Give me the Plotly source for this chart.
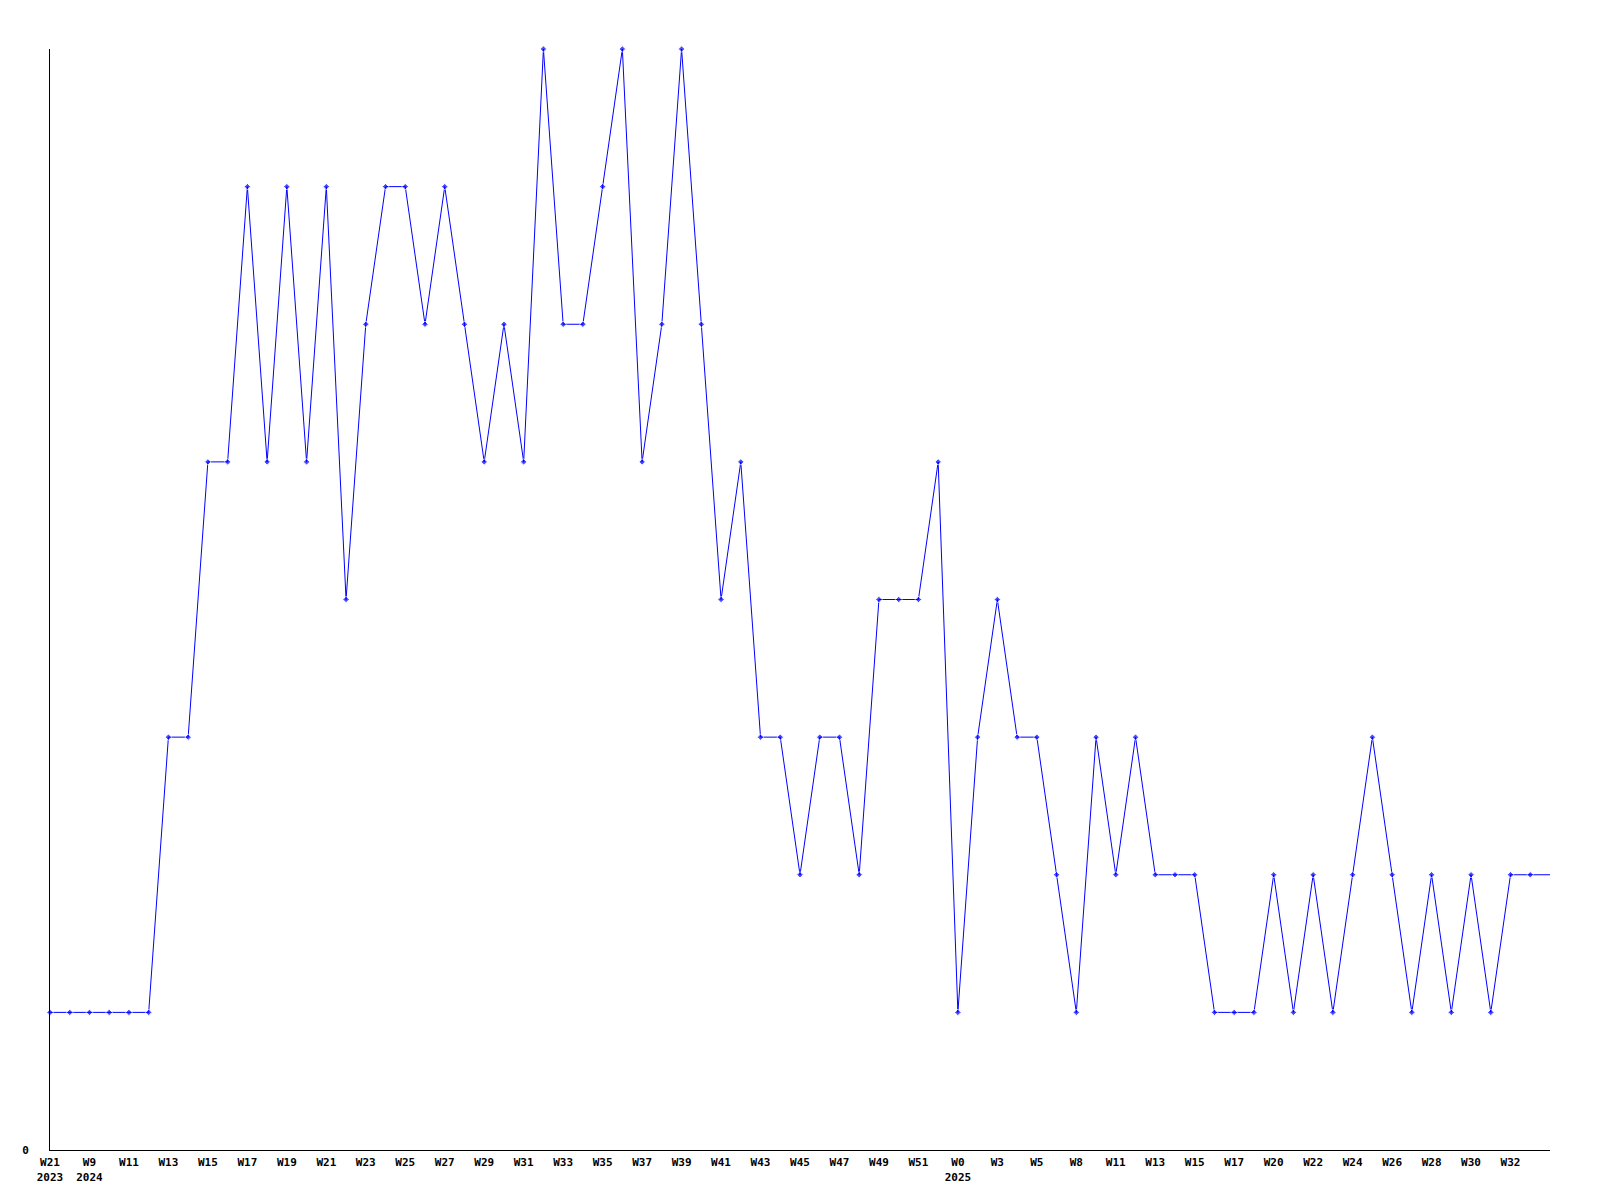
import plotly.graph_objects as go

weeks = [
    "W21 2023", "W8 2024", "W9 2024", "W10 2024", "W11 2024", "W12 2024", "W13 2024", "W14 2024",
    "W15 2024", "W16 2024", "W17 2024", "W18 2024", "W19 2024", "W20 2024", "W21 2024", "W22 2024",
    "W23 2024", "W24 2024", "W25 2024", "W26 2024", "W27 2024", "W28 2024", "W29 2024", "W30 2024",
    "W31 2024", "W32 2024", "W33 2024", "W34 2024", "W35 2024", "W36 2024", "W37 2024", "W38 2024",
    "W39 2024", "W40 2024", "W41 2024", "W42 2024", "W43 2024", "W44 2024", "W45 2024", "W46 2024",
    "W47 2024", "W48 2024", "W49 2024", "W50 2024", "W51 2024", "W52 2024", "W0 2025", "W1 2025",
    "W3 2025", "W4 2025", "W5 2025", "W7 2025", "W8 2025", "W10 2025", "W11 2025", "W12 2025",
    "W13 2025", "W14 2025", "W15 2025", "W16 2025", "W17 2025", "W19 2025", "W20 2025", "W21 2025",
    "W22 2025", "W23 2025", "W24 2025", "W25 2025", "W26 2025", "W27 2025", "W28 2025", "W29 2025",
    "W30 2025", "W31 2025", "W32 2025", "W33 2025", "W34 2025",
]

values = [
    1, 1, 1, 1, 1, 1, 3, 3, 5, 5, 7, 5, 7, 5, 7, 4,
    6, 7, 7, 6, 7, 6, 5, 6, 5, 8, 6, 6, 7, 8, 5, 6,
    8, 6, 4, 5, 3, 3, 2, 3, 3, 2, 4, 4, 4, 5, 1, 3,
    4, 3, 3, 2, 1, 3, 2, 3, 2, 2, 2, 1, 1, 1, 2, 1,
    2, 1, 2, 3, 2, 1, 2, 1, 2, 1, 2, 2, 2,
]

tick_labels = {
    "W21 2023": "W21<br>2023", "W9 2024": "W9<br>2024", "W0 2025": "W0<br>2025",
}

tickvals = weeks[:-1:2]
ticktext = [tick_labels.get(w, w.split(" ")[0]) for w in tickvals]

marker_sizes = [5] * (len(weeks) - 1) + [0]

fig = go.Figure()
fig.add_trace(go.Scatter(
    x=weeks, y=values, mode="lines+markers",
    line=dict(color="#0000FF", width=1),
    marker=dict(color="#0000FF", size=marker_sizes, symbol="diamond"),
    cliponaxis=False,
    showlegend=False,
))

font = dict(family="DejaVu Sans Mono", size=11, color="black", weight="bold")

fig.update_layout(
    width=1600, height=1200,
    margin=dict(l=42, r=58, t=41, b=58),
    plot_bgcolor="white", paper_bgcolor="white",
    font=font,
    xaxis=dict(
        type="category", range=[0, len(weeks) - 1],
        tickvals=tickvals, ticktext=ticktext,
        showline=True, linecolor="black", linewidth=1,
        showgrid=False, zeroline=False, ticks="",
        tickangle=0, tickfont=font, ticklabelstandoff=2,
    ),
    yaxis=dict(
        range=[0, 8], tickvals=[0], ticktext=["0"],
        showline=True, linecolor="black", linewidth=1,
        showgrid=False, zeroline=False, ticks="",
        tickfont=font, ticklabelstandoff=18,
    ),
)

fig.write_html("out.html")
